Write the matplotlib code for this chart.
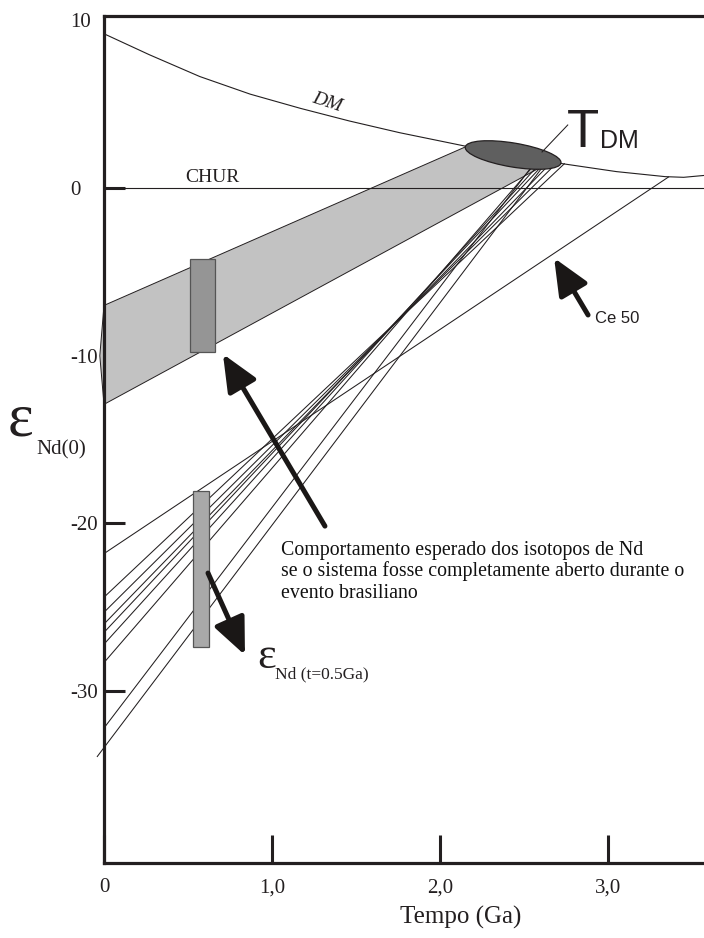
"""Nd evolution diagram: eps_Nd vs time with T_DM model ages."""
import matplotlib
matplotlib.use("Agg")
import matplotlib.pyplot as plt
from matplotlib.patches import Polygon, Rectangle, Ellipse
from matplotlib.transforms import ScaledTranslation
from matplotlib.ticker import FixedLocator

plt.rcParams["font.family"] = ["Liberation Serif", "DejaVu Serif"]
SANS = ["Liberation Sans", "DejaVu Sans"]
INK = "#231f20"

# ---- data ----
dm_t = [0.0, 0.27, 0.57, 0.87, 1.17, 1.46, 1.76, 2.15, 2.73, 3.05, 3.34, 3.45, 3.57]
dm_eps = [9.2, 7.95, 6.65, 5.6, 4.75, 4.0, 3.3, 2.5, 1.45, 0.98, 0.68, 0.64, 0.75]

chur_t = [0.0, 3.57]
chur_eps = [0.0, 0.0]

band_t = [0.0, 2.15, 2.59, 0.0, -0.025]
band_eps = [-7.0, 2.45, 1.19, -12.9, -10.0]

# sample lines: (t0, eps0) -> (t1, eps1)
line_t0 = [0.0, 0.0, 0.0, 0.0, 0.0, 0.0, 0.0, -0.04]
line_e0 = [-24.4, -25.3, -26.0, -26.5, -27.2, -28.3, -32.2, -33.9]
line_t1 = [2.74, 2.68, 2.64, 2.60, 2.57, 2.54, 2.54, 2.61]
line_e1 = [1.45, 1.35, 1.30, 1.25, 1.20, 1.15, 1.20, 1.25]

ce50_t = [0.0, 3.36]
ce50_eps = [-21.8, 0.66]

tdm_center = (2.435, 1.97)
tdm_leader_t = [2.607, 2.76]
tdm_leader_eps = [2.15, 3.76]

rect_open = (0.51, -9.8, 0.15, 5.55)     # t, eps, width, height
rect_closed = (0.527, -27.37, 0.096, 9.3)

arrow_tails = [(1.315, -20.16), (0.619, -22.96), (2.881, -7.57)]
arrow_tips = [(0.708, -9.9), (0.839, -27.85), (2.679, -4.17)]

yticks = [10, 0, -10, -20, -30]
xticks = [0, 1, 2, 3]
xtick_labels = ["0", "1,0", "2,0", "3,0"]

comment = ["Comportamento esperado dos isotopos de Nd",
           "se o sistema fosse completamente aberto durante o",
           "evento brasiliano"]

fig = plt.figure(figsize=(7.04, 9.38), dpi=100)
ax = fig.add_axes([104 / 704, 75 / 938, 600 / 704, 846.5 / 938])
ax.set_xlim(0, 3.571)
ax.set_ylim(-40.25, 10.23)

# band of open-system evolution
ax.add_patch(Polygon(list(zip(band_t, band_eps)), closed=True, facecolor="#c2c2c2",
                     edgecolor=INK, lw=0.7, zorder=1, clip_on=False))
ax.add_patch(Rectangle(rect_open[:2], rect_open[2], rect_open[3], facecolor="#959595",
                       edgecolor="#555555", lw=0.9, zorder=2))

ax.plot(dm_t, dm_eps, color=INK, lw=0.8, zorder=3)
ax.plot(chur_t, chur_eps, color=INK, lw=0.8, zorder=3)
for t0, e0, t1, e1 in zip(line_t0, line_e0, line_t1, line_e1):
    ax.plot([t0, t1], [e0, e1], color=INK, lw=0.75, zorder=3, clip_on=False)
ax.plot(ce50_t, ce50_eps, color=INK, lw=0.75, zorder=3)

ax.add_patch(Rectangle(rect_closed[:2], rect_closed[2], rect_closed[3], facecolor="#a9a9a9",
                       edgecolor="#555555", lw=0.9, zorder=4))

# T_DM ellipse, sized in inches so it is not distorted by the axis aspect
ell = Ellipse((0, 0), 0.97, 0.24, angle=-9.5, facecolor="#5f5f5f", edgecolor=INK, lw=0.9,
              transform=fig.dpi_scale_trans + ScaledTranslation(*tdm_center, ax.transData),
              zorder=5)
ax.add_patch(ell)
ax.plot(tdm_leader_t, tdm_leader_eps, color=INK, lw=0.75, zorder=6)

for tail, tip in zip(arrow_tails, arrow_tips):
    ax.annotate("", xy=tip, xytext=tail,
                arrowprops=dict(arrowstyle="-|>,head_length=1.6,head_width=0.7",
                                mutation_scale=14, lw=3.6, color="#1a1716",
                                shrinkA=0, shrinkB=0), zorder=7)

# axes styling
for side in ("left", "bottom", "top"):
    ax.spines[side].set_linewidth(2.3)
    ax.spines[side].set_color(INK)
    ax.spines[side].set_zorder(8)
ax.spines["right"].set_visible(False)

ax.set_yticks(yticks)
ax.set_yticklabels([str(v) for v in yticks])
ax.tick_params(axis="y", direction="in", length=15, width=2.2, color=INK,
               labelsize=15, pad=24.5, labelcolor=INK)
for lbl in ax.get_yticklabels():
    lbl.set_horizontalalignment("left")
for v, tk in zip(yticks, ax.yaxis.get_major_ticks()):
    if v in (10, -10):
        tk.tick1line.set_visible(False)
ax.yaxis.set_minor_locator(FixedLocator([0]))
ax.tick_params(axis="y", which="minor", direction="in", length=27.5, width=2.2, color=INK)

ax.set_xticks(xticks)
ax.set_xticklabels(xtick_labels)
ax.tick_params(axis="x", direction="in", length=20, width=2.2, color=INK,
               labelsize=15, pad=11, labelcolor=INK)

# labels
ax.text(2.125, -43.5, "Tempo (Ga)", ha="center", va="center", fontsize=18, color=INK,
        clip_on=False)
ax.text(-0.571, -14.73, "ε", fontsize=44, ha="left", va="baseline", color=INK)
ax.text(-0.405, -15.9, "Nd(0)", fontsize=15, ha="left", va="baseline", color=INK)

ax.text(0.643, 0.36, "CHUR", ha="center", va="baseline", fontsize=14, color=INK)
ax.text(1.327, 5.1, "DM", ha="center", va="center", fontsize=14, style="italic",
        rotation=-18, color=INK)

ax.text(2.755, 2.445, "T", fontsize=38, family=SANS, ha="left", va="baseline", color=INK)
ax.text(2.955, 2.385, "DM", fontsize=18, family=SANS, ha="left", va="baseline", color=INK)
ax.text(2.923, -7.75, "Ce 50", fontsize=12, family=SANS, ha="left", va="center", color=INK)

for i, line in enumerate(comment):
    ax.text(1.055, -21.88 - i * 1.28, line, fontsize=14.3, ha="left", va="baseline",
            color="#111111")

ax.text(0.911, -28.62, "ε", fontsize=32, ha="left", va="baseline", color=INK)
ax.text(1.018, -29.25, "Nd (t=0.5Ga)", fontsize=12.5, ha="left", va="baseline", color=INK)

fig.savefig("out.png", dpi=100)
